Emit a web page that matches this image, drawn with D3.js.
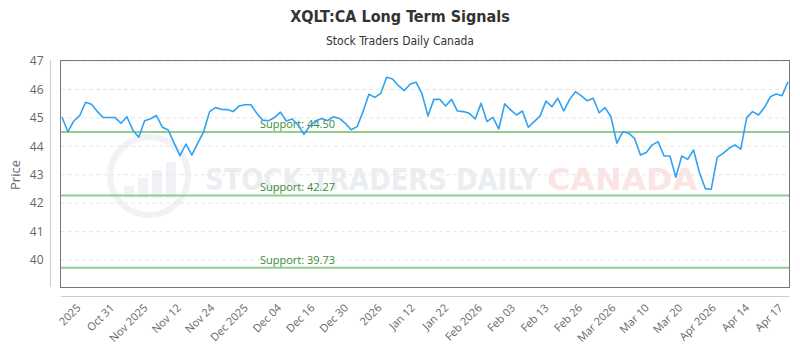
<!DOCTYPE html>
<html>
<head>
<meta charset="utf-8">
<script src="https://cdn.jsdelivr.net/npm/d3@7"></script>
<style>
  body { margin: 0; background: #fff; }
  svg { display: block; font-family: "Open Sans", sans-serif; }
</style>
</head>
<body>
<svg id="chart" width="800" height="350"></svg>
<script>
// closing prices, one per trading day
let prices = [
  45.02, 44.51, 44.89, 45.08, 45.55, 45.48, 45.22, 45.01, 45.01, 45.01,
  44.81, 45.04, 44.57, 44.32, 44.90, 44.97, 45.08, 44.67, 44.57, 44.11,
  43.67, 44.08, 43.69, 44.11, 44.51, 45.22, 45.36, 45.30, 45.29, 45.22,
  45.42, 45.46, 45.46, 45.16, 44.92, 44.90, 45.01, 45.20, 44.89, 44.96,
  44.75, 44.42, 44.72, 44.90, 44.98, 44.90, 45.04, 44.98, 44.81, 44.58,
  44.69, 45.22, 45.83, 45.72, 45.86, 46.43, 46.37, 46.13, 45.96, 46.19,
  46.25, 45.84, 45.07, 45.65, 45.65, 45.42, 45.65, 45.24, 45.22, 45.16,
  44.96, 45.51, 44.87, 45.02, 44.61, 45.49, 45.28, 45.10, 45.24, 44.67,
  44.87, 45.07, 45.59, 45.39, 45.69, 45.24, 45.65, 45.92, 45.77, 45.60,
  45.69, 45.18, 45.36, 45.04, 44.11, 44.51, 44.46, 44.28, 43.69, 43.78,
  44.05, 44.16, 43.66, 43.66, 42.91, 43.66, 43.54, 43.87, 43.07, 42.51,
  42.49, 43.61, 43.75, 43.93, 44.05, 43.90, 45.01, 45.22, 45.10, 45.36,
  45.74, 45.84, 45.78, 46.27
];

let xLabels = [
  '2025', 'Oct 31', 'Nov 2025', 'Nov 12', 'Nov 24', 'Dec 2025', 'Dec 04',
  'Dec 16', 'Dec 30', '2026', 'Jan 12', 'Jan 22', 'Feb 2026', 'Feb 03',
  'Feb 13', 'Feb 26', 'Mar 2026', 'Mar 10', 'Mar 20', 'Apr 2026', 'Apr 14', 'Apr 17'
];

let yTicks = [40, 41, 42, 43, 44, 45, 46, 47];

let supports = [44.50, 42.27, 39.73];

let svg = d3.select('#chart');

let plotL = 61, plotR = 789, plotT = 61, plotB = 287;

let x = d3.scaleLinear().domain([0, prices.length - 1]).range([62, 788]);
let y = d3.scaleLinear().domain([39.05, 47]).range([plotB, plotT]);
let xl = d3.scalePoint().domain(xLabels).range([81, 783]);

// titles
svg.append('text')
  .attr('x', 400).attr('y', 22)
  .attr('text-anchor', 'middle')
  .style('font-family', '"Liberation Sans Narrow", "DejaVu Sans Condensed", sans-serif')
  .style('font-stretch', 'condensed')
  .style('font-weight', 'bold')
  .style('font-size', '16px')
  .style('fill', '#333')
  .text('XQLT:CA Long Term Signals');

svg.append('text')
  .attr('x', 400).attr('y', 45)
  .attr('text-anchor', 'middle')
  .style('font-family', '"Liberation Sans Narrow", "DejaVu Sans Condensed", sans-serif')
  .style('font-stretch', 'condensed')
  .style('font-size', '12px')
  .style('fill', '#333')
  .text('Stock Traders Daily Canada');

// watermark
let wm = svg.append('g').style('opacity', 0.45);
wm.append('circle')
  .attr('cx', 149).attr('cy', 176).attr('r', 39)
  .attr('fill', 'none').attr('stroke', '#dfe4ea').attr('stroke-width', 6);
wm.append('path')
  .attr('d', 'M124,198 L124,186 L134,186 L134,198 M138,198 L138,178 L148,178 L148,198 M152,198 L152,170 L162,170 L162,198 M166,198 L166,162 L176,162 L176,198')
  .attr('fill', '#dfe4ea');
wm.append('text')
  .attr('x', 205).attr('y', 190)
  .attr('textLength', 333)
  .attr('lengthAdjust', 'spacingAndGlyphs')
  .style('font-family', '"Liberation Sans Narrow", "DejaVu Sans Condensed", sans-serif')
  .style('font-weight', 'bold')
  .style('font-size', '31px')
  .style('fill', '#d5dbe2')
  .text('STOCK TRADERS DAILY');
wm.append('text')
  .attr('x', 547).attr('y', 190)
  .attr('textLength', 150)
  .attr('lengthAdjust', 'spacingAndGlyphs')
  .style('font-family', '"Liberation Sans Narrow", "DejaVu Sans Condensed", sans-serif')
  .style('font-weight', 'bold')
  .style('font-size', '31px')
  .style('fill', '#f8c4c4')
  .text('CANADA');

// gridlines
svg.append('g').selectAll('line')
  .data(yTicks)
  .join('line')
  .attr('x1', plotL).attr('x2', plotR)
  .attr('y1', d => y(d)).attr('y2', d => y(d))
  .attr('stroke', '#e6e6e6')
  .attr('stroke-dasharray', '4,3');

// support lines
svg.append('g').selectAll('line')
  .data(supports)
  .join('line')
  .attr('x1', plotL).attr('x2', plotR)
  .attr('y1', d => y(d)).attr('y2', d => y(d))
  .attr('stroke', '#8fcf8a')
  .attr('stroke-width', 2);

svg.append('g').selectAll('text')
  .data(supports)
  .join('text')
  .attr('x', 260)
  .attr('y', d => y(d) - 4)
  .style('font-size', '11px')
  .style('fill', '#3a8a3a')
  .text(d => 'Support: ' + d.toFixed(2));

// price line
let line = d3.line()
  .x((d, i) => x(i))
  .y(d => y(d));

svg.append('path')
  .datum(prices)
  .attr('fill', 'none')
  .attr('stroke', '#31a2f2')
  .attr('stroke-width', 1.6)
  .attr('stroke-linejoin', 'round')
  .attr('d', line);

// plot frame
svg.append('rect')
  .attr('x', plotL - 0.5).attr('y', plotT - 0.5)
  .attr('width', plotR - plotL + 1).attr('height', plotB - plotT + 1)
  .attr('fill', 'none')
  .attr('stroke', '#777');

// offset axes
let yAxis = d3.axisLeft(y).tickValues(yTicks).tickSize(0).tickPadding(7);
let gy = svg.append('g')
  .attr('transform', 'translate(50.5,0)')
  .call(yAxis);
gy.select('.domain').attr('stroke', '#ccc').attr('d', `M0,${plotT - 1}V${plotB}`);
gy.selectAll('text')
  .style('font-family', '"Open Sans", sans-serif')
  .style('font-size', '12px')
  .style('fill', '#666');

let xAxis = d3.axisBottom(xl).tickSize(0).tickPadding(0);
let gx = svg.append('g')
  .attr('transform', 'translate(0,296.5)')
  .call(xAxis);
gx.select('.domain').attr('stroke', '#ccc').attr('d', `M${plotL},0H${plotR}`);
gx.selectAll('text')
  .attr('text-anchor', 'end')
  .attr('dy', null)
  .attr('y', 0)
  .attr('transform', 'translate(0,12) rotate(-45)')
  .style('font-family', '"Open Sans", sans-serif')
  .style('font-size', '11px')
  .style('fill', '#666');

// y axis title
svg.append('text')
  .attr('transform', 'translate(20,175) rotate(-90)')
  .attr('text-anchor', 'middle')
  .style('font-family', '"Open Sans", sans-serif')
  .style('font-size', '13px')
  .style('fill', '#666')
  .text('Price');
</script>
</body>
</html>
